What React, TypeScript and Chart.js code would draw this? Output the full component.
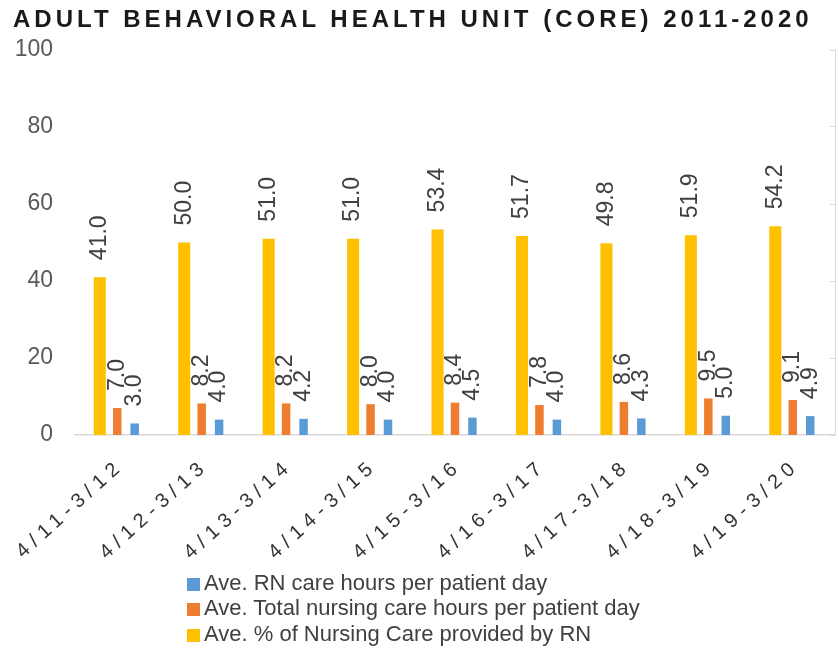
import React, { useEffect, useRef } from 'react';
import { Chart, registerables, CategoryScale } from 'chart.js';

Chart.register(...registerables);

// ---- Data ----
const TITLE = 'ADULT BEHAVIORAL HEALTH UNIT (CORE) 2011-2020';
const categories = ['4/11-3/12', '4/12-3/13', '4/13-3/14', '4/14-3/15', '4/15-3/16', '4/16-3/17', '4/17-3/18', '4/18-3/19', '4/19-3/20'];
const pctRN = [41.0, 50.0, 51.0, 51.0, 53.4, 51.7, 49.8, 51.9, 54.2];
const totalHours = [7.0, 8.2, 8.2, 8.0, 8.4, 7.8, 8.6, 9.5, 9.1];
const rnHours = [3.0, 4.0, 4.2, 4.0, 4.5, 4.0, 4.3, 5.0, 4.9];
const seriesNames = [
  'Ave. RN care hours per patient day',
  'Ave. Total nursing care hours per patient day',
  'Ave. % of Nursing Care provided by RN',
];
const yTicks = [0, 20, 40, 60, 80, 100];

const BLUE = '#5B9BD5';
const ORANGE = '#ED7D31';
const YELLOW = '#FFC000';

const W = 839;
const H = 650;

class SpacedCategoryScale extends CategoryScale {
  static id = 'spacedCategory';
  drawLabels(chartArea: any) {
    const ctx: any = this.ctx;
    ctx.save();
    ctx.letterSpacing = '6px';
    ctx.translate(4, 0);
    super.drawLabels(chartArea);
    ctx.restore();
  }
}
Chart.register(SpacedCategoryScale as any);

const valueLabels = {
  id: 'valueLabels',
  afterDatasetsDraw(chart: any) {
    const ctx = chart.ctx;
    chart.data.datasets.forEach((ds: any, di: number) => {
      const meta = chart.getDatasetMeta(di);
      meta.data.forEach((bar: any, i: number) => {
        const v = ds.data[i];
        ctx.save();
        ctx.translate(bar.x, bar.y - 17);
        ctx.rotate(-Math.PI / 2);
        ctx.font = '23px "Liberation Sans", Arial, sans-serif';
        ctx.fillStyle = '#404040';
        ctx.textAlign = 'left';
        ctx.textBaseline = 'middle';
        ctx.fillText(v.toFixed(1), 0, 0);
        ctx.restore();
      });
    });
  },
};

export default function App() {
  const ref = useRef<HTMLCanvasElement>(null);
  useEffect(() => {
    if (!ref.current) return;
    const chart = new Chart(ref.current, {
      type: 'bar',
      data: {
        labels: categories,
        datasets: [
          { label: seriesNames[2], data: pctRN, backgroundColor: YELLOW, yAxisID: 'y' },
          { label: seriesNames[1], data: totalHours, backgroundColor: ORANGE, maxBarThickness: 8.5, yAxisID: 'y' },
          { label: seriesNames[0], data: rnHours, backgroundColor: BLUE, maxBarThickness: 8.5, yAxisID: 'y' },
        ],
      },
      options: {
        animation: false,
        responsive: true,
        maintainAspectRatio: false,
        devicePixelRatio: 1,
        datasets: { bar: { categoryPercentage: 0.62, barPercentage: 0.69 } },
        layout: { padding: { left: 0, right: 2, top: 50, bottom: 65 } },
        plugins: { legend: { display: false }, title: { display: false }, tooltip: { enabled: false } },
        scales: {
          x: {
            type: 'spacedCategory' as any,
            clip: false,
            grid: { display: false, drawTicks: false },
            border: { display: true, color: '#d9d9d9', width: 1.5 },
            ticks: {
              minRotation: 42,
              maxRotation: 42,
              autoSkip: false,
              padding: 19,
              color: '#333333',
              font: { family: '"Liberation Sans", Arial, sans-serif', size: 20 },
              callback: function (this: any, v: any) { return this.getLabelForValue(v); },
            },
            afterFit: (s: any) => { s.height = 150; },
          } as any,
          y: {
            min: 0,
            max: 100,
            afterBuildTicks: (s: any) => { s.ticks = yTicks.map((v) => ({ value: v })); },
            grid: { display: false, drawTicks: false },
            border: { display: false },
            ticks: {
              padding: 22,
              color: '#595959',
              font: { family: '"Liberation Sans", Arial, sans-serif', size: 23 },
            },
            afterFit: (s: any) => { s.width = 75; },
          },
          y2: {
            position: 'right',
            min: 0,
            max: 100,
            afterBuildTicks: (s: any) => { s.ticks = yTicks.map((v) => ({ value: v })); },
            grid: { display: true, drawOnChartArea: false, drawTicks: true, tickLength: -5, color: '#d9d9d9' },
            border: { display: true, color: '#d9d9d9', width: 1 },
            ticks: { display: false },
            afterFit: (s: any) => { s.width = 2; },
          },
        },
      },
      plugins: [valueLabels],
    });
    return () => chart.destroy();
  }, []);

  const legendItems = [
    { name: seriesNames[0], color: BLUE },
    { name: seriesNames[1], color: ORANGE },
    { name: seriesNames[2], color: YELLOW },
  ];

  return (
    <div style={{ position: 'absolute', left: 0, top: 0, width: W, height: H, background: '#fff' }}>
      <div style={{ position: 'absolute', left: 0, top: 0, width: W, height: H }}>
        <canvas ref={ref} />
      </div>
      <div
        style={{
          position: 'absolute',
          left: 13,
          top: 4,
          whiteSpace: 'nowrap',
          fontFamily: '"Liberation Sans", Arial, sans-serif',
          fontWeight: 'bold',
          fontSize: 24,
          letterSpacing: '4px',
          color: '#1a1a1a',
          lineHeight: '30px',
        }}
      >
        {TITLE}
      </div>
      <div style={{ position: 'absolute', left: 187, top: 570, fontFamily: '"Liberation Sans", Arial, sans-serif', fontSize: 22, color: '#404040' }}>
        {legendItems.map((it) => (
          <div key={it.name} style={{ display: 'flex', alignItems: 'center', height: 25.5, whiteSpace: 'nowrap' }}>
            <span style={{ display: 'inline-block', width: 13, height: 13, background: it.color, marginRight: 4, marginTop: 3 }} />
            <span>{it.name}</span>
          </div>
        ))}
      </div>
    </div>
  );
}
